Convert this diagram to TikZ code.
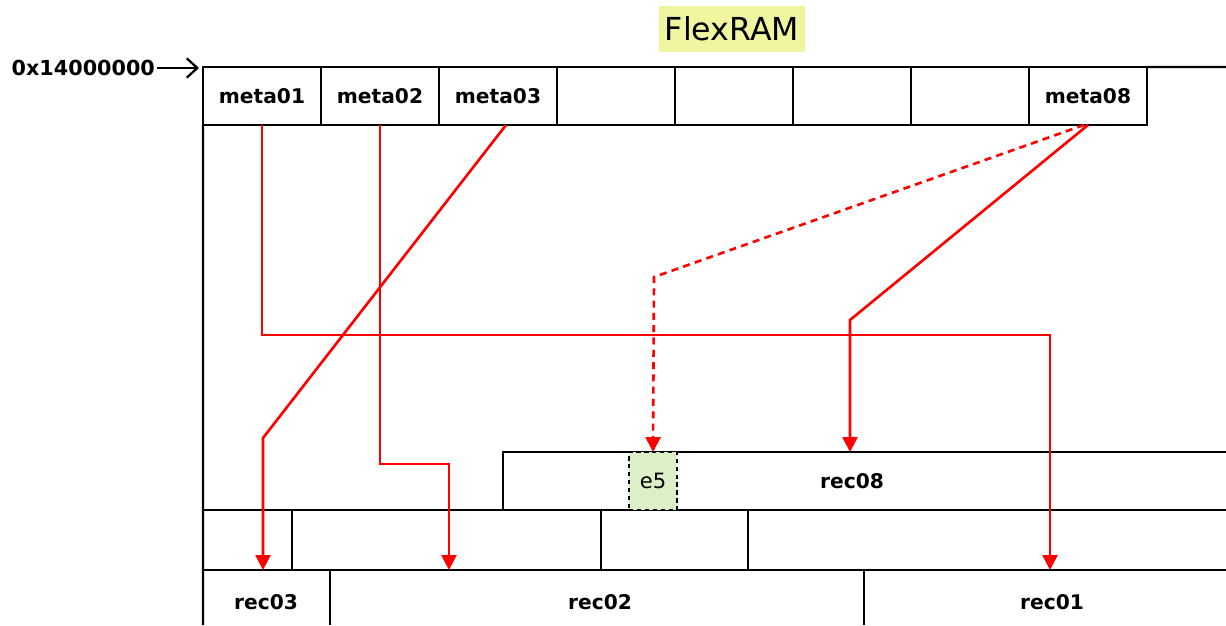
\documentclass[tikz,border=0pt]{standalone}
\usepackage{fontspec}
\setmainfont{DejaVu Sans}
\usetikzlibrary{arrows.meta}
\definecolor{titlebg}{RGB}{240,245,160}
\definecolor{entrybg}{RGB}{220,240,200}
\begin{document}
\begin{tikzpicture}[
				x=0.02cm, y=-0.02cm,
				frame/.style={draw, line width=1.3pt},
				cell/.style={frame, minimum width=2.36cm, minimum height=1.16cm, inner sep=0pt, outer sep=0pt, font=\fontsize{11.5}{13}\selectfont\bfseries},
				label text/.style={font=\fontsize{11.5}{13}\selectfont\bfseries},
				link/.style={draw=red, line width=1.5pt, -{Triangle[length=8.5pt, width=8.5pt]}}
				]
				\useasboundingbox (0,0) rectangle (1226,625);
				\node[fill=titlebg, minimum width=2.86cm, minimum height=0.92cm, font=\fontsize{18}{20}\selectfont] (title) at (732,29) {FlexRAM};
				\foreach \i/\t in {1/meta01,2/meta02,3/meta03,4/,5/,6/,7/,8/meta08}
					\node[cell] (m\i) at ({203+118*(\i-1)+59},96) {\t};
				\draw[frame] (m8.north east) -- (1226,67);
				\draw[frame] (m1.south west) -- (203,625);
				\draw[frame] (1226,452) -- (503,452) -- (503,510);
				\draw[frame] (203,510) -- (1226,510);
				\draw[frame] (203,570) -- (1226,570);
				\foreach \x in {292,601,748}
					\draw[frame] (\x,510) -- (\x,570);
				\foreach \x in {330,864}
					\draw[frame] (\x,570) -- (\x,625);
				\node[frame, dash pattern=on 2.5pt off 2pt, fill=entrybg, minimum width=0.96cm, minimum height=1.16cm, inner sep=0pt, outer sep=0pt, font=\fontsize{12}{13}\selectfont] (e5) at (653,481) {e5};
				\node[label text] (rec08) at (852,481) {rec08};
				\node[label text] (rec03) at (266,602) {rec03};
				\node[label text] (rec02) at (600,602) {rec02};
				\node[label text] (rec01) at (1052,602) {rec01};
				\coordinate (base) at (199,68);
				\coordinate (in01) at (1050,570);
				\coordinate (in02) at (449,570);
				\coordinate (in03) at (263,570);
				\coordinate (in08) at (850,452);
				\node[label text, font=\fontsize{11.8}{13}\selectfont\bfseries, anchor=east, inner sep=1pt] (addr) at (157,68) {0x14000000};
				\draw[line width=1.3pt, -{Straight Barb[length=6pt, width=11pt]}] (addr.east) -- (base);
				\draw[link] (m1.south) |- (1050,335) -- (in01);
				\draw[link] (m2.south) |- (449,464) -- (in02);
				\draw[link] ([xshift=0.16cm]m3.south) -- (263,438) -- (in03);
				\draw[link] (m8.south) -- (850,320) -- (in08);
				\draw[link, dash pattern=on 4pt off 3pt] ([xshift=-0.08cm]m8.south) -- (654,277) -- (e5.north);
			\end{tikzpicture}
\end{document}
